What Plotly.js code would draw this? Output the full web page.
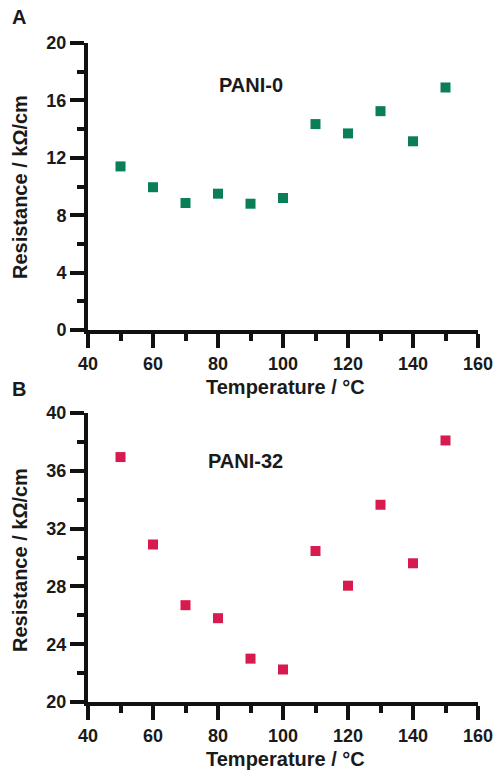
<!DOCTYPE html>
<html>
<head>
<meta charset="utf-8">
<script src="https://cdn.plot.ly/plotly-3.0.1.min.js"></script>
<style>html,body{margin:0;padding:0;background:#fff}#chart{width:499px;height:771px}</style>
</head>
<body>
<div id="chart"></div>
<script>
// Data
const temperature = [50, 60, 70, 80, 90, 100, 110, 120, 130, 140, 150];
const resistancePANI0 = [11.4, 9.95, 8.85, 9.5, 8.8, 9.2, 14.35, 13.7, 15.25, 13.15, 16.9];
const resistancePANI32 = [36.95, 30.9, 26.7, 25.8, 23.0, 22.25, 30.45, 28.05, 33.65, 29.6, 38.1];
const xTicks = [40, 60, 80, 100, 120, 140, 160];
const yTicksA = [0, 4, 8, 12, 16, 20];
const yTicksB = [20, 24, 28, 32, 36, 40];
const seriesNames = ["PANI-0", "PANI-32"];
const xTitle = "Temperature / °C";
const yTitle = "Resistance / kΩ/cm";

const W = 499, H = 771;
const px = v => v / W;
const py = v => 1 - v / H;
const FONT = "Liberation Sans, Arial, sans-serif";

const traces = [
  {x: temperature, y: resistancePANI0, xaxis: 'x', yaxis: 'y', mode: 'markers', type: 'scatter', name: seriesNames[0],
   marker: {symbol: 'square', size: 10, color: '#0a7f57'}},
  {x: temperature, y: resistancePANI32, xaxis: 'x2', yaxis: 'y2', mode: 'markers', type: 'scatter', name: seriesNames[1],
   marker: {symbol: 'square', size: 10, color: '#d81b4f'}}
];

const axisCommon = {
  showline: true, linewidth: 4, linecolor: '#111', showgrid: false, zeroline: false,
  ticks: 'outside', ticklen: 14, tickwidth: 4, tickcolor: '#111',
  tickfont: {family: FONT, size: 18, color: '#1a1a1a', weight: 'bold'},
  fixedrange: true
};

function xAxis(anchor) {
  return Object.assign({}, axisCommon, {
    domain: [px(88), px(478)], range: [40, 160], anchor: anchor,
    tickmode: 'array', tickvals: xTicks, ticktext: xTicks.map(String),
    minor: {dtick: 10, tick0: 40, ticks: 'outside', ticklen: 7, tickwidth: 4, tickcolor: '#111'}
  });
}
function yAxis(anchor, dom, rng, ticks) {
  return Object.assign({}, axisCommon, {
    domain: dom, range: rng, anchor: anchor,
    tickmode: 'array', tickvals: ticks, ticktext: ticks.map(String),
    minor: {dtick: 2, tick0: rng[0], ticks: 'outside', ticklen: 7, tickwidth: 4, tickcolor: '#111'}
  });
}

const bold = (size) => ({family: FONT, size: size, color: '#1a1a1a', weight: 'bold'});
const ann = (text, x, y, size, extra) => Object.assign({
  text: text, x: px(x), y: py(y), xref: 'paper', yref: 'paper', showarrow: false,
  xanchor: 'center', yanchor: 'middle', font: bold(size)
}, extra || {});

const layout = {
  width: W, height: H,
  margin: {l: 0, r: 0, t: 0, b: 0},
  paper_bgcolor: '#fff', plot_bgcolor: '#fff',
  showlegend: false,
  xaxis: xAxis('y'),
  yaxis: yAxis('x', [py(330), py(43)], [0, 20], yTicksA),
  xaxis2: xAxis('y2'),
  yaxis2: yAxis('x2', [py(702), py(413)], [20, 40], yTicksB),
  annotations: [
    ann('A', 19, 17, 20),
    ann('B', 19, 389, 20),
    ann(seriesNames[0], 251, 85, 20),
    ann(seriesNames[1], 245, 461, 20),
    ann(xTitle, 285, 387, 20),
    ann(xTitle, 285, 759, 20),
    ann(yTitle, 20, 187, 20, {textangle: -90}),
    ann(yTitle, 20, 560, 20, {textangle: -90})
  ]
};

Plotly.newPlot('chart', traces, layout, {displayModeBar: false, staticPlot: true});
</script>
</body>
</html>
